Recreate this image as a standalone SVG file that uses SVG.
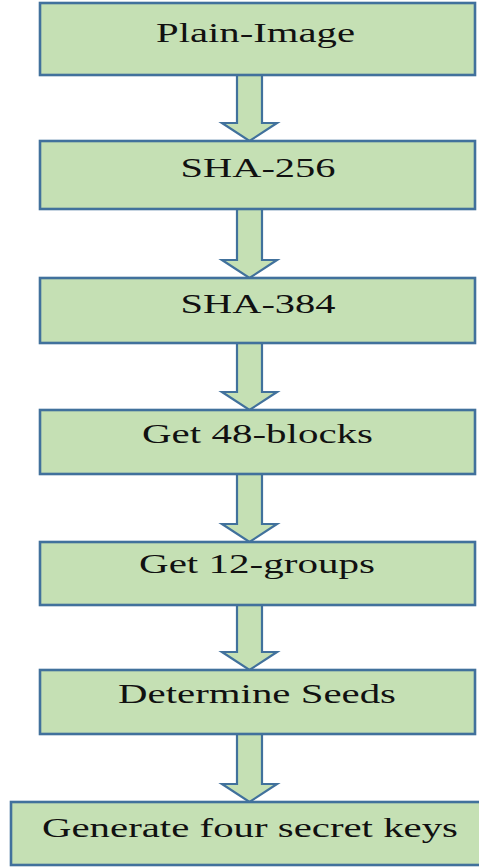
<svg xmlns="http://www.w3.org/2000/svg" width="479" height="867" viewBox="0 0 479 867">
<style>
.box{fill:#c5e0b4;stroke:#41719c;stroke-width:2.6}
.arr{fill:#c5e0b4;stroke:#41719c;stroke-width:2.2;stroke-linejoin:miter}
.t{font-family:"Liberation Serif","Times New Roman",serif;font-size:28px;fill:#111;text-anchor:middle}
</style>
<rect width="479" height="867" fill="#fff"/>
<g id="connectors">
<polygon class="arr" points="237,75 262,75 262,123 277,123 249.5,141 222,123 237,123"/>
<polygon class="arr" points="237,209 262,209 262,260 277,260 249.5,278 222,260 237,260"/>
<polygon class="arr" points="237,343 262,343 262,392 277,392 249.5,410 222,392 237,392"/>
<polygon class="arr" points="237,474 262,474 262,524 277,524 249.5,542 222,524 237,524"/>
<polygon class="arr" points="237,605 262,605 262,652 277,652 249.5,670 222,652 237,652"/>
<polygon class="arr" points="237,734 262,734 262,784 277,784 249.5,802 222,784 237,784"/>
</g>
<g id="n1"><rect class="box" x="40" y="3" width="435" height="72"/><text class="t" x="255.5" y="42" textLength="199" lengthAdjust="spacingAndGlyphs">Plain-Image</text></g>
<g id="n2"><rect class="box" x="40" y="141" width="435" height="68"/><text class="t" x="258" y="177" textLength="155" lengthAdjust="spacingAndGlyphs">SHA-256</text></g>
<g id="n3"><rect class="box" x="40" y="278" width="435" height="65"/><text class="t" x="258" y="313" textLength="155" lengthAdjust="spacingAndGlyphs">SHA-384</text></g>
<g id="n4"><rect class="box" x="40" y="410" width="435" height="64"/><text class="t" x="257.5" y="443" textLength="231" lengthAdjust="spacingAndGlyphs">Get 48-blocks</text></g>
<g id="n5"><rect class="box" x="40" y="542" width="435" height="63"/><text class="t" x="257" y="573" textLength="236" lengthAdjust="spacingAndGlyphs">Get 12-groups</text></g>
<g id="n6"><rect class="box" x="40" y="670" width="435" height="64"/><text class="t" x="257" y="703" textLength="278" lengthAdjust="spacingAndGlyphs">Determine Seeds</text></g>
<g id="n7"><rect class="box" x="11" y="802" width="480" height="63"/><text class="t" x="250" y="837" textLength="416" lengthAdjust="spacingAndGlyphs">Generate four secret keys</text></g>
</svg>
